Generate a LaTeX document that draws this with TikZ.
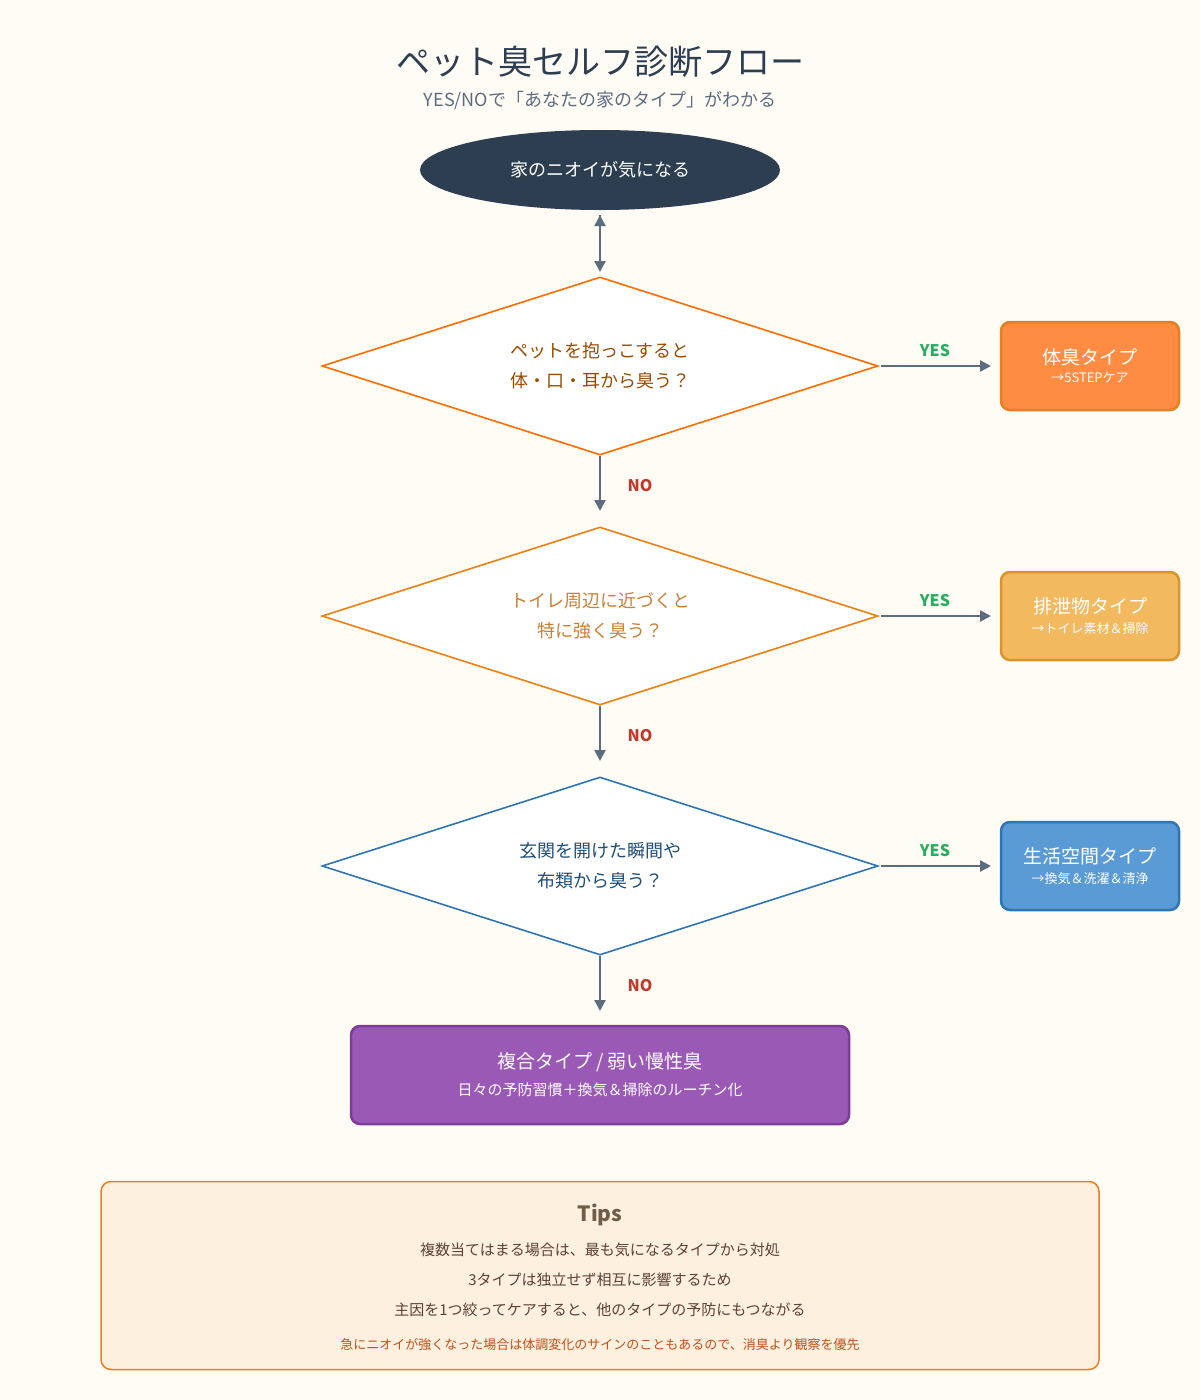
\documentclass[tikz,border=0pt]{standalone}
\usepackage{fontspec}
\setmainfont{Noto Sans CJK JP}
\usetikzlibrary{shapes.geometric,arrows.meta}
\definecolor{bg}{HTML}{FFFBF5}
\definecolor{ttl}{HTML}{2C3E50}
\definecolor{sub}{HTML}{5D6D7E}
\definecolor{arr}{HTML}{5D6D7E}
\definecolor{yes}{HTML}{27AE60}
\definecolor{no}{HTML}{C0392B}
\begin{document}
\begin{tikzpicture}[x=1pt,y=-1pt,
  ar/.style={draw=arr,line width=2.5pt,-{Triangle[length=11pt,width=11pt]}},
  dia/.style={diamond,aspect=3.12,minimum width=556pt,minimum height=178pt,inner sep=0pt,fill=white,line width=1.6pt,align=center,font=\fontsize{18}{30}\selectfont},
  rbox/.style={rounded corners=9pt,line width=2.5pt,minimum width=178pt,minimum height=88pt,text=white,align=center},
  yl/.style={text=yes,font=\bfseries\fontsize{16}{18}\selectfont},
  nl/.style={text=no,font=\bfseries\fontsize{16}{18}\selectfont}]
\fill[bg] (0,0) rectangle (1200,1400);
\useasboundingbox (0,0) rectangle (1200,1400);
\node[text=ttl,font=\fontsize{34}{40}\selectfont] (t) at (600,62) {ペット臭セルフ診断フロー};
\node[text=sub,font=\fontsize{18}{22}\selectfont] (st) at (600,100) {YES/NOで「あなたの家のタイプ」がわかる};
\node[ellipse,fill=ttl,minimum width=360pt,minimum height=80pt,text=white,font=\fontsize{18}{22}\selectfont] (s) at (600,170) {家のニオイが気になる};
\node[dia,draw=orange!85!red,text=orange!60!black] (d1) at (600,366) {ペットを抱っこすると\\体・口・耳から臭う？};
\node[dia,draw=orange!75!brown,text=brown!80!orange] (d2) at (600,616) {トイレ周辺に近づくと\\特に強く臭う？};
\node[dia,draw={rgb,255:red,46;green,117;blue,182},text={rgb,255:red,31;green,78;blue,121}] (d3) at (600,866) {玄関を開けた瞬間や\\布類から臭う？};
\node[rbox,fill={rgb,255:red,255;green,140;blue,66},draw={rgb,255:red,230;green,126;blue,34}] (b1) at (1090,366) {{\fontsize{19}{22}\selectfont 体臭タイプ}\\[6pt]{\fontsize{13}{15}\selectfont →5STEPケア}};
\node[rbox,fill={rgb,255:red,242;green,185;blue,95},draw={rgb,255:red,217;green,149;blue,42}] (b2) at (1090,616) {{\fontsize{19}{22}\selectfont 排泄物タイプ}\\[6pt]{\fontsize{13}{15}\selectfont →トイレ素材＆掃除}};
\node[rbox,fill={rgb,255:red,91;green,155;blue,213},draw={rgb,255:red,46;green,117;blue,182}] (b3) at (1090,866) {{\fontsize{19}{22}\selectfont 生活空間タイプ}\\[6pt]{\fontsize{13}{15}\selectfont →換気＆洗濯＆清浄}};
\node[rbox,minimum width=498pt,minimum height=98pt,fill={rgb,255:red,155;green,89;blue,182},draw={rgb,255:red,125;green,60;blue,152}] (b4) at (600,1075) {{\fontsize{19}{22}\selectfont 複合タイプ / 弱い慢性臭}\\[10pt]{\fontsize{15}{17}\selectfont 日々の予防習慣＋換気＆掃除のルーチン化}};
\draw[ar] (s.south)++(0,5) coordinate (s1);
\coordinate (a1) at (600,215); \coordinate (a2) at (600,272);
\draw[ar] (a1) -- (a2);
\draw[ar] (d1.south) -- (600,511);
\draw[ar] (d2.south) -- (600,761);
\draw[ar] (d3.south) -- (600,1011);
\draw[ar] (d1.east) ++(2,0) -- (991,366);
\draw[ar] (d2.east) ++(2,0) -- (991,616);
\draw[ar] (d3.east) ++(2,0) -- (991,866);
\foreach \y in {351,601,851} \node[yl] at (935,\y) {YES};
\foreach \y in {486,736,986} \node[nl] at (640,\y) {NO};
\node[draw={rgb,255:red,230;green,126;blue,34},fill={rgb,255:red,253;green,240;blue,223},line width=1.5pt,rounded corners=10pt,minimum width=998pt,minimum height=188pt] (tips) at (600,1275.5) {};
\node[text=brown!40!black!80,font=\bfseries\fontsize{21}{24}\selectfont] (tt) at (600,1215) {Tips};
\begin{scope}[every node/.style={text={rgb,255:red,93;green,64;blue,55},font=\fontsize{15}{17}\selectfont}]
\node (l1) at (600,1250) {複数当てはまる場合は、最も気になるタイプから対処};
\node (l2) at (600,1280) {3タイプは独立せず相互に影響するため};
\node (l3) at (600,1310) {主因を1つ絞ってケアすると、他のタイプの予防にもつながる};
\end{scope}
\node[text={rgb,255:red,192;green,80;blue,27},font=\fontsize{13}{15}\selectfont] (l4) at (600,1345) {急にニオイが強くなった場合は体調変化のサインのこともあるので、消臭より観察を優先};
\end{tikzpicture}
\end{document}
